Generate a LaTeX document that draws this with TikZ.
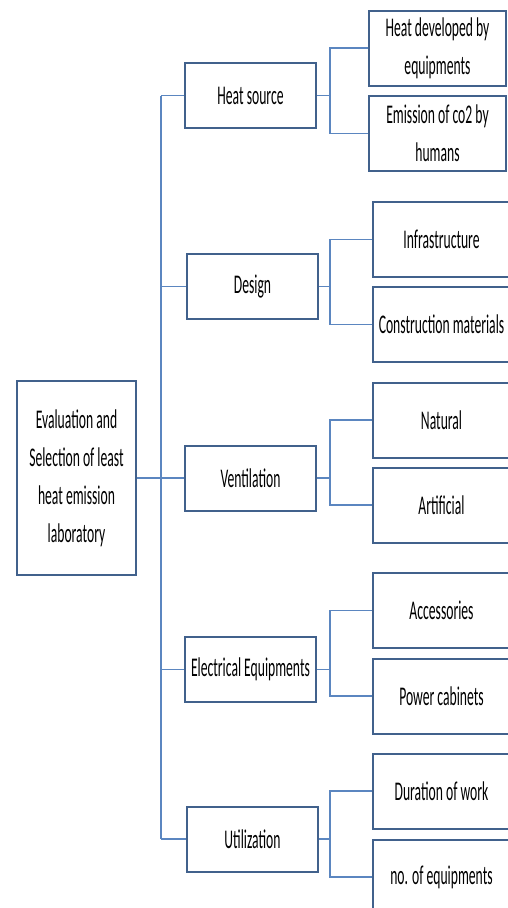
\documentclass[tikz,border=0pt]{standalone}
\usepackage{fontspec}
\setmainfont{Carlito}[FakeStretch=0.505]
\usetikzlibrary{positioning,calc}
\definecolor{boxblue}{HTML}{41618C}
\definecolor{linkblue}{HTML}{5B86C0}
\tikzset{
  box/.style={draw=boxblue, fill=white, line width=2pt, align=center,
    inner sep=2pt, font=\fontsize{27}{38}\selectfont, text=black},
  rootbox/.style={box, minimum width=119pt, minimum height=194pt},
  midbox/.style={box, minimum width=131pt, minimum height=65pt},
  leafbox/.style={box, minimum width=137pt, minimum height=75pt},
  link/.style={draw=linkblue, line width=1.6pt},
}
\begin{document}
\begin{tikzpicture}[x=1pt,y=-1pt]
  \useasboundingbox (0,0) rectangle (507,908);
  % root
  \node[rootbox] (root) at (76.5,478) {Evaluation and\\Selection of least\\heat emission\\laboratory};
  % first level
  \node[midbox] (heat) at (250.5,95.5) {Heat source};
  \node[midbox] (design) at (252.5,286.5) {Design};
  \node[midbox] (vent) at (250.5,478) {Ventilation};
  \node[midbox] (elec) at (250.5,669.5) {Electrical Equipments};
  \node[midbox] (util) at (252.5,839) {Utilization};
  % second level
  \node[leafbox] (heatdev) at (437.5,48) {Heat developed by\\equipments};
  \node[leafbox] (emis) at (437.5,133.5) {Emission of co2 by\\humans};
  \node[leafbox] (infra) at (441.5,239.5) {Infrastructure};
  \node[leafbox] (constr) at (441.5,324.5) {Construction materials};
  \node[leafbox] (natural) at (441.5,420) {Natural};
  \node[leafbox] (artif) at (441.5,505) {Artificial};
  \node[leafbox] (access) at (441.5,610.5) {Accessories};
  \node[leafbox] (power) at (441.5,696) {Power cabinets};
  \node[leafbox] (durat) at (441.5,791) {Duration of work};
  \node[leafbox] (noeq) at (441.5,877) {no. of equipments};
  % trunk
  \coordinate (tktop) at (161,95.5);
  \coordinate (tkbot) at (161,839);
  \draw[link] (tktop) -- (tkbot);
  \draw[link] (root.east |- vent.west) -- (vent.west);
  \foreach \p in {heat,design,elec,util}
    \draw[link] (\p.west) -- (\p.west -| tktop);
  % brackets
  \foreach \p/\a/\b in {heat/heatdev/emis, design/infra/constr, vent/natural/artif,
                        elec/access/power, util/durat/noeq} {
    \coordinate (br) at (330,0);
    \draw[link] (\p.east) -- (\p.east -| br);
    \draw[link] (\a.west) -| (br |- \p.east) |- (\b.west);
  }
\end{tikzpicture}
\end{document}
